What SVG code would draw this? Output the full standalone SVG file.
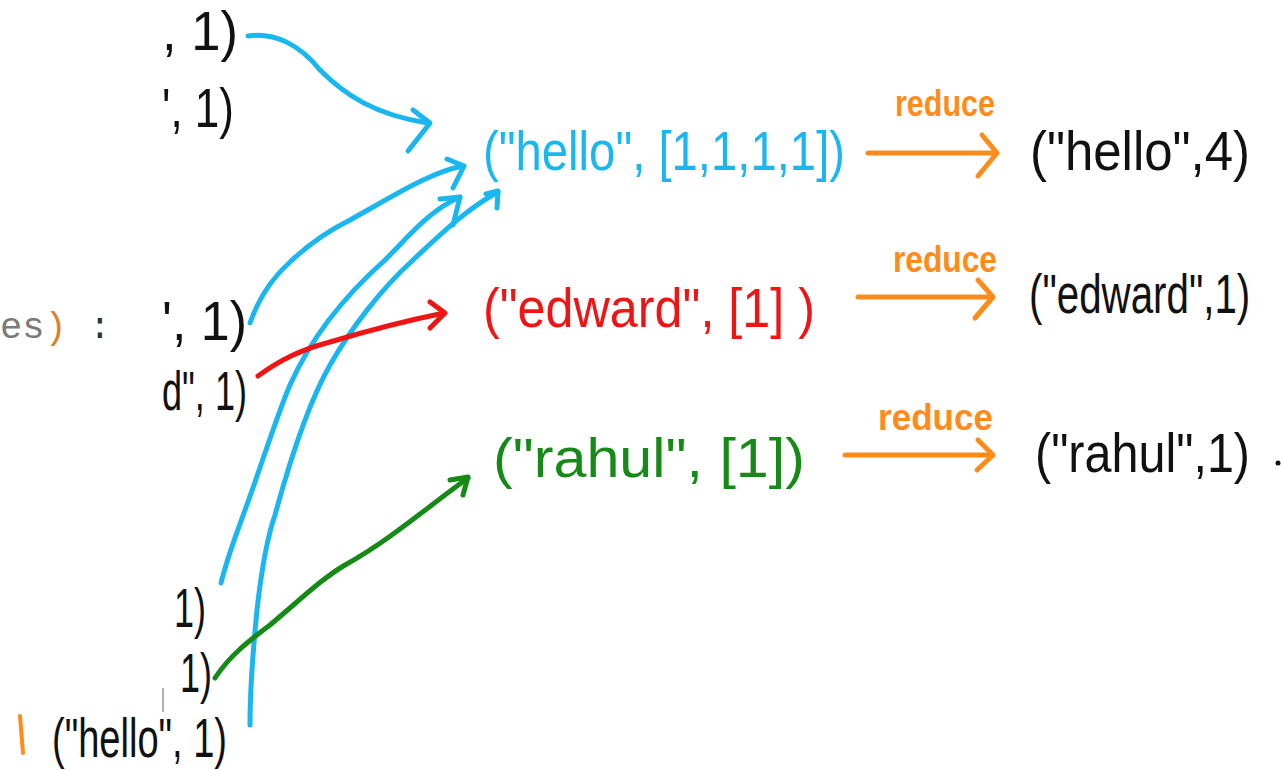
<svg xmlns="http://www.w3.org/2000/svg" width="1281" height="770" viewBox="0 0 1281 770">
<style>
.hw{font-family:"Liberation Sans","DejaVu Sans",sans-serif;font-size:56px;}
.blk{fill:#111;}
.blu{fill:#19b6ef;}
.red{fill:#f01515;}
.grn{fill:#168a16;}
.red-lbl{font-family:"Liberation Sans",sans-serif;font-size:36px;font-weight:bold;fill:#ff8c1a;}
.code{font-family:"Liberation Mono","DejaVu Sans Mono",monospace;font-size:37px;}
.c{fill:none;stroke-width:5;stroke-linecap:round;stroke-linejoin:round;}
.cb{stroke:#19b6ef;}
.cr{stroke:#f01515;}
.cg{stroke:#168a16;}
.co{stroke:#ff8c1a;}
</style>
<rect width="1281" height="770" fill="#fff"/>

<g id="code-fragment">
<text class="code" x="0" y="338"><tspan fill="#7a7a7a">es</tspan><tspan fill="#d9822b">)</tspan><tspan fill="#333"> :</tspan></text>
<line x1="163" y1="688" x2="163" y2="712" stroke="#999" stroke-width="1.5"/>
<line x1="20" y1="716" x2="23" y2="753" stroke="#ff8c1a" stroke-width="4" stroke-linecap="round"/>
</g>

<g id="map-outputs">
<text class="hw blk" x="162" y="50" font-size="46" textLength="76" lengthAdjust="spacingAndGlyphs">, 1)</text>
<text class="hw blk" x="162" y="127" textLength="72" lengthAdjust="spacingAndGlyphs">', 1)</text>
<text class="hw blk" x="162" y="340" textLength="85" lengthAdjust="spacingAndGlyphs">', 1)</text>
<text class="hw blk" x="162" y="410" textLength="85" lengthAdjust="spacingAndGlyphs">d", 1)</text>
<text class="hw blk" x="174" y="627" textLength="32" lengthAdjust="spacingAndGlyphs">1)</text>
<text class="hw blk" x="180" y="692" textLength="32" lengthAdjust="spacingAndGlyphs">1)</text>
<text class="hw blk" x="52" y="757" textLength="175" lengthAdjust="spacingAndGlyphs">("hello", 1)</text>
</g>

<g id="group-hello">
<text class="hw blu" x="483" y="170" font-size="62" textLength="362" lengthAdjust="spacingAndGlyphs">("hello", [1,1,1,1])</text>
</g>
<g id="group-edward">
<text class="hw red" x="483" y="327" font-size="60" textLength="332" lengthAdjust="spacingAndGlyphs">("edward", [1] )</text>
</g>
<g id="group-rahul">
<text class="hw grn" x="493" y="477" font-size="62" textLength="312" lengthAdjust="spacingAndGlyphs">("rahul", [1])</text>
</g>

<g id="result-hello">
<text class="hw blk" x="1030" y="170" font-size="60" textLength="220" lengthAdjust="spacingAndGlyphs">("hello",4)</text>
</g>
<g id="result-edward">
<text class="hw blk" transform="translate(1029,313) scale(0.72,1)" x="0" y="0" font-size="58">("edward",1)</text>
</g>
<g id="result-rahul">
<text class="hw blk" x="1035" y="472" font-size="60" textLength="215" lengthAdjust="spacingAndGlyphs">("rahul",1)</text>
<circle cx="1278" cy="463" r="2.5" fill="#111"/>
</g>

<g id="connectors">
<path class="c cb" d="M248,36 C275,32 300,45 320,70 C345,95 375,115 428,123"/>
<path class="c cb" d="M413,110 L430,123 L408,151"/>
<path class="c cb" d="M250,323 C258,300 270,280 290,262 C310,243 330,230 350,220 C390,198 430,172 463,166"/>
<path class="c cb" d="M447,159 L464,166 L453,188"/>
<path class="c cb" d="M221,583 C228,555 238,530 245,510 C260,470 275,420 290,385 C310,340 340,300 385,260 C410,235 430,210 460,197"/>
<path class="c cb" d="M440,199 L460,197 L453,225"/>
<path class="c cb" d="M250,725 C250,690 253,650 257,610 C262,565 268,535 275,515 C290,460 310,400 330,365 C350,330 380,290 413,260 C440,235 465,210 498,192"/>
<path class="c cb" d="M486,194 L498,191 L497,208"/>
<path class="c cr" d="M258,376 C280,360 300,350 330,342 C370,330 400,322 444,313"/>
<path class="c cr" d="M430,302 L445,313 L430,328"/>
<path class="c cg" d="M215,678 C230,655 250,640 270,625 C300,600 320,580 345,565 C390,540 430,505 468,478"/>
<path class="c cg" d="M450,480 L468,477 L463,495"/>
<path class="c co" d="M868,153 L996,153 M982,135 L997,153 L978,176"/>
<path class="c co" d="M858,297 L992,297 M978,280 L993,297 L975,318"/>
<path class="c co" d="M845,455 L993,455 M978,440 L993,455 L977,470"/>
<text class="red-lbl" x="895" y="116" textLength="100" lengthAdjust="spacingAndGlyphs">reduce</text>
<text class="red-lbl" x="893" y="272" textLength="104" lengthAdjust="spacingAndGlyphs">reduce</text>
<text class="red-lbl" x="878" y="430" textLength="115" lengthAdjust="spacingAndGlyphs">reduce</text>
</g>
</svg>
